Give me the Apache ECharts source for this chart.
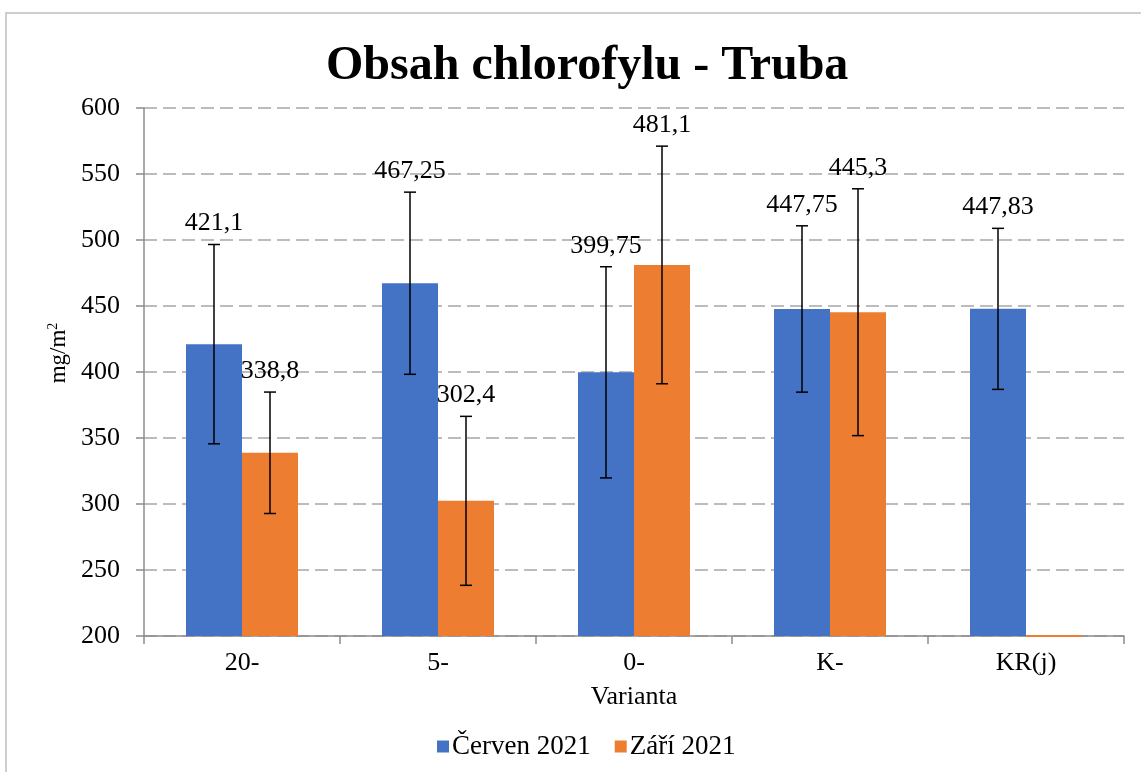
<!DOCTYPE html>
<html>
<head>
<meta charset="utf-8">
<script src="https://cdn.jsdelivr.net/npm/echarts@6/dist/echarts.min.js"></script>
<style>
  html, body { margin: 0; padding: 0; background: #fff; }
  #chart { width: 1141px; height: 772px; }
</style>
</head>
<body>
<div id="chart"></div>
<script>
const categories = ['20-', '5-', '0-', 'K-', 'KR(j)'];
const cerven = [421.1, 467.25, 399.75, 447.75, 447.83];
const zari = [338.8, 302.4, 481.1, 445.3, 0];
const cervenErr = [75.5, 69, 80, 63, 61];
const zariErr = [46, 64, 90, 93.5, null];
const yTicks = [200, 250, 300, 350, 400, 450, 500, 550, 600];

const FONT = '"Liberation Serif", "Times New Roman", serif';
const BAR_W = 56;
const yMin = yTicks[0];

function fmt(v) {
  return String(v).replace('.', ',');
}

// error bar + value label drawn over each bar
function errorSeries(values, errs, side, color) {
  return {
    type: 'custom',
    z: 5,
    silent: true,
    data: values.map((v, i) => [i, v, errs[i]]),
    renderItem: function (params, api) {
      const i = api.value(0);
      const v = api.value(1);
      const e = api.value(2);
      const cx = api.coord([i, yMin])[0] + side * BAR_W / 2;
      const base = api.coord([i, yMin])[1];
      const children = [];
      if (v <= yMin) {
        // bar below the axis start shows as a thin line on the axis
        children.push({
          type: 'rect',
          shape: {x: cx - BAR_W / 2, y: base - 1, width: BAR_W, height: 2},
          style: {fill: color}
        });
        return {type: 'group', children: children};
      }
      const top = api.coord([i, v + e])[1];
      const bot = api.coord([i, v - e])[1];
      const st = {stroke: '#000', lineWidth: 1.5};
      children.push({type: 'line', shape: {x1: cx, y1: top, x2: cx, y2: bot}, style: st});
      children.push({type: 'line', shape: {x1: cx - 6, y1: top, x2: cx + 6, y2: top}, style: st});
      children.push({type: 'line', shape: {x1: cx - 6, y1: bot, x2: cx + 6, y2: bot}, style: st});
      children.push({
        type: 'text',
        style: {
          x: cx, y: top - 21, text: fmt(v),
          align: 'center', verticalAlign: 'middle',
          font: '26px ' + FONT, fill: '#000'
        }
      });
      return {type: 'group', children: children};
    }
  };
}

const chart = echarts.init(document.getElementById('chart'));
chart.setOption({
  animation: false,
  graphic: [{
    type: 'rect',
    shape: {x: 6, y: 13, width: 1160, height: 790},
    style: {fill: 'none', stroke: '#bfbfbf', lineWidth: 1.5},
    z: -1
  }],
  title: {
    text: 'Obsah chlorofylu - Truba',
    left: 321,
    top: 38,
    textStyle: {fontFamily: FONT, fontSize: 48, fontWeight: 'bold', color: '#000'}
  },
  legend: {
    left: 432,
    top: 728,
    itemWidth: 12,
    itemHeight: 12,
    itemGap: 24,
    icon: 'rect',
    textStyle: {fontFamily: FONT, fontSize: 27, color: '#000', padding: [0, 0, 0, -2]},
    data: ['Červen 2021', 'Září 2021']
  },
  grid: {left: 144, right: 17, top: 108, bottom: 136},
  xAxis: {
    type: 'category',
    data: categories,
    name: 'Varianta',
    nameLocation: 'middle',
    nameGap: 48,
    nameTextStyle: {fontFamily: FONT, fontSize: 26, color: '#000'},
    axisLine: {lineStyle: {color: '#8c8c8c', width: 1.5}},
    axisTick: {show: true, length: 8, lineStyle: {color: '#8c8c8c', width: 1.5}},
    axisLabel: {fontFamily: FONT, fontSize: 26, color: '#000', margin: 14}
  },
  yAxis: {
    type: 'value',
    min: 200,
    max: 600,
    interval: 50,
    name: 'mg/m{sup|2}',
    nameLocation: 'middle',
    nameGap: 70,
    nameRotate: 90,
    nameTextStyle: {
      fontFamily: FONT, fontSize: 23, color: '#000', padding: [0, 0, 0, 38],
      rich: {sup: {fontFamily: FONT, fontSize: 14, color: '#000', verticalAlign: 'top', padding: [0, 0, 10, 0]}}
    },
    axisLine: {show: true, lineStyle: {color: '#8c8c8c', width: 1.5}},
    axisTick: {show: true, length: 8, lineStyle: {color: '#8c8c8c', width: 1.5}},
    axisLabel: {fontFamily: FONT, fontSize: 26, color: '#000', margin: 24},
    splitLine: {lineStyle: {color: '#a6a6a6', width: 1.5, type: [13, 6]}}
  },
  series: [
    {
      name: 'Červen 2021',
      type: 'bar',
      data: cerven,
      barWidth: BAR_W,
      barGap: '0%',
      itemStyle: {color: '#4472C4'}
    },
    {
      name: 'Září 2021',
      type: 'bar',
      data: zari,
      barWidth: BAR_W,
      barGap: '0%',
      itemStyle: {color: '#ED7D31'}
    },
    errorSeries(cerven, cervenErr, -1, '#4472C4'),
    errorSeries(zari, zariErr, 1, '#ED7D31')
  ]
});
</script>
</body>
</html>
